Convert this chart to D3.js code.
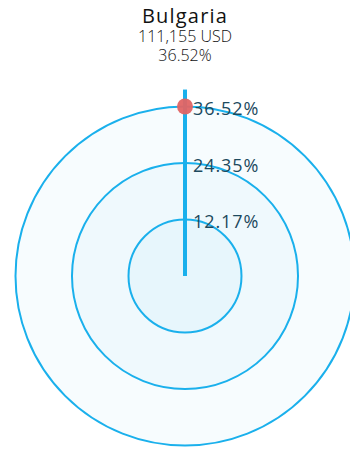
<!DOCTYPE html>
<html>
<head>
<meta charset="utf-8">
<script src="https://cdn.jsdelivr.net/npm/d3@7"></script>
<style>
  html, body { margin: 0; padding: 0; background: #fff; }
  svg { display: block; font-family: "Open Sans", "Noto Sans", sans-serif; }
</style>
</head>
<body>
<div id="chart"></div>
<script>
// Country summary shown as a radial gauge
const country = "Bulgaria";
const amountUSD = 111155;
const share = 36.52;

// Ring levels (percent) drawn as concentric circles
const ringLevels = [36.52, 24.35, 12.17];
const ringLabels = ["36.52%", "24.35%", "12.17%"];

const width = 350, height = 450;
const cx = 185, cy = 276, outerR = 169.5;

const svg = d3.select("#chart").append("svg")
  .attr("width", width).attr("height", height);

const r = d3.scaleLinear().domain([0, d3.max(ringLevels)]).range([0, outerR]);

const g = svg.append("g").attr("transform", `translate(${cx},${cy})`);

// Concentric rings, largest first so smaller ones sit on top
g.selectAll("circle.ring")
  .data(ringLevels.slice().sort((a, b) => b - a))
  .join("circle")
  .attr("class", "ring")
  .attr("r", d => r(d))
  .attr("fill", "rgba(26,176,236,0.035)")
  .attr("stroke", "#1ab0ec")
  .attr("stroke-width", 2);

// Value spoke, running slightly past the outer ring
g.append("line")
  .attr("x1", 0).attr("y1", 0)
  .attr("x2", 0).attr("y2", -r(d3.max(ringLevels) * 1.1))
  .attr("stroke", "#1ab0ec")
  .attr("stroke-width", 4);

// Ring labels
g.selectAll("text.ring-label")
  .data(ringLevels)
  .join("text")
  .attr("class", "ring-label")
  .attr("x", 8)
  .attr("y", d => -r(d) + 4)
  .attr("dominant-baseline", "middle")
  .attr("font-size", 18)
  .attr("letter-spacing", 0.9)
  .attr("fill", "#1d4a5e")
  .text((d, i) => ringLabels[i]);

// Value marker
g.append("circle")
  .attr("cx", 0)
  .attr("cy", -r(share))
  .attr("r", 8)
  .attr("fill", "#e06464")
  .attr("fill-opacity", 0.95);

// Title block
const fmt = d3.format(",");
const title = svg.append("g").attr("text-anchor", "middle").attr("fill", "#111");
title.append("text").attr("x", cx).attr("y", 23)
  .attr("font-size", 20).attr("font-weight", 500)
  .attr("letter-spacing", 1.2).text(country);
title.append("text").attr("x", cx).attr("y", 42)
  .attr("font-size", 16).attr("font-weight", 300).text(`${fmt(amountUSD)} USD`);
title.append("text").attr("x", cx).attr("y", 61)
  .attr("font-size", 16).attr("font-weight", 300).text(`${share.toFixed(2)}%`);
</script>
</body>
</html>
